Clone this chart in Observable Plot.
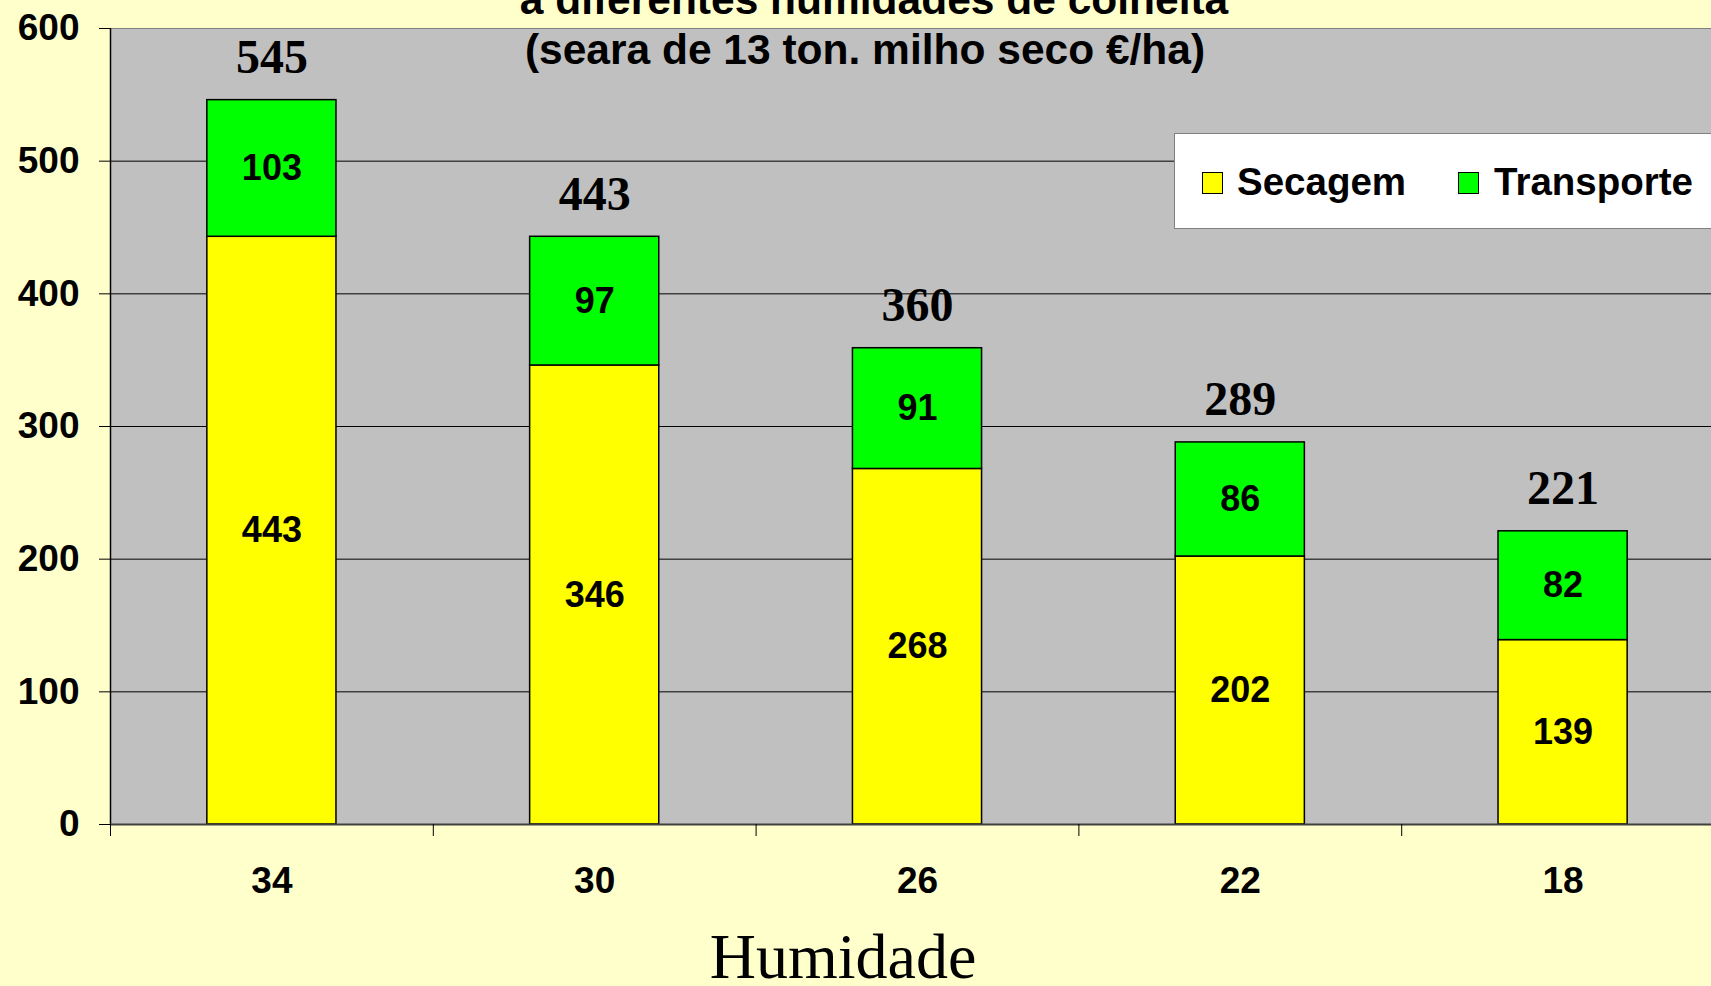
<!DOCTYPE html>
<html>
<head>
<meta charset="utf-8">
<script src="https://cdn.jsdelivr.net/npm/d3@7"></script>
<script src="https://cdn.jsdelivr.net/npm/@observablehq/plot@0.6"></script>
<style>
  html, body { margin: 0; padding: 0; overflow: hidden; background: #FFFFCC; width: 1711px; height: 986px; }
  #wrap { position: relative; width: 1711px; height: 986px; overflow: hidden; }
  #chart { width: 1724px; }
  #chart svg { display: block; max-width: none !important; }
  .title { position: absolute; transform: translateX(-50%); white-space: nowrap;
           font-family: "Liberation Sans", Arial, sans-serif; font-weight: bold; font-size: 42.5px; line-height: 42px; color: #000; }
  #xlabel { position: absolute; transform: translateX(-50%); white-space: nowrap;
            font-family: "Liberation Serif", "Times New Roman", serif; font-size: 64px; line-height: 40px; color: #000; }
  #legend { position: absolute; left: 1174px; top: 133px; width: 600px; height: 96px; box-sizing: border-box;
            background: #fff; border: 1px solid #808080; }
  #legend .sw { position: absolute; width: 21px; height: 22px; box-sizing: border-box; border: 1px solid #000; }
  #legend .lt { position: absolute; font-family: "Liberation Sans", Arial, sans-serif; font-weight: bold;
                font-size: 38.5px; line-height: 38px; white-space: nowrap; color: #000; }
</style>
</head>
<body>
<div id="wrap">
  <div id="chart"></div>
  <div class="title" id="t1" style="left:874px; top:-21px;"></div>
  <div class="title" id="t2" style="left:865px; top:29px;"></div>
  <div id="legend"></div>
  <div id="xlabel" style="left:843px; top:937px;"></div>
</div>
<script>
// ---- Data ----
const titulo1 = "a diferentes humidades de colheita";
const titulo2 = "(seara de 13 ton. milho seco €/ha)";
const eixoX = "Humidade";
const categorias = ["34", "30", "26", "22", "18"];
const series = ["Secagem", "Transporte"];
const cores = ["#FFFF00", "#00FF00"];
const secagem = [443, 346, 268, 202, 139];
const transporte = [103, 97, 91, 86, 82];
const totais = [545, 443, 360, 289, 221];
const ticksY = [0, 100, 200, 300, 400, 500, 600];

// ---- Derived table ----
const linhas = categorias.flatMap((c, i) => [
  {cat: c, i, serie: series[0], y1: 0, y2: secagem[i], valor: secagem[i]},
  {cat: c, i, serie: series[1], y1: secagem[i], y2: secagem[i] + transporte[i], valor: transporte[i]}
]);
const topos = categorias.map((c, i) => ({cat: c, i, topo: secagem[i] + transporte[i], total: totais[i]}));

const sans = "Liberation Sans, Arial, sans-serif";
const serif = "Liberation Serif, Times New Roman, serif";

const chart = Plot.plot({
  width: 1724,
  height: 986,
  marginLeft: 110,
  marginRight: 0,
  marginTop: 28,
  marginBottom: 162,
  style: {background: "transparent", color: "black", fontFamily: sans, maxWidth: "none"},
  x: {domain: [0, categorias.length], axis: null},
  y: {domain: [0, 600], axis: null},
  color: {domain: series, range: cores},
  marks: [
    Plot.frame({fill: "#C0C0C0", stroke: "#808080"}),
    Plot.gridY({ticks: ticksY.slice(1, -1), stroke: "black", strokeOpacity: 1, strokeWidth: 1}),
    Plot.rect(linhas, {
      x1: d => d.i + 0.3, x2: d => d.i + 0.7, y1: "y1", y2: "y2",
      fill: "serie", stroke: "black", strokeWidth: 1.5
    }),
    Plot.text(linhas, {
      x: d => d.i + 0.5, y: d => (d.y1 + d.y2) / 2, text: d => String(d.valor),
      fontSize: 36, fontWeight: "bold", fontFamily: sans, fill: "black", lineAnchor: "middle"
    }),
    Plot.text(topos, {
      x: d => d.i + 0.5, y: "topo", text: d => String(d.total),
      dy: -27, lineAnchor: "bottom",
      fontSize: 48, fontWeight: "bold", fontFamily: serif, fill: "black"
    }),
    Plot.ruleX([0], {stroke: "black", strokeWidth: 1.5}),
    Plot.ruleY([0], {stroke: "#404040", strokeWidth: 2}),
    Plot.axisY({
      ticks: ticksY, tickSize: 11, tickPadding: 20, stroke: "black",
      fontSize: 37, fontWeight: "bold", fontFamily: sans, tickFormat: d => String(d)
    }),
    Plot.axisX({
      ticks: d3.range(0, categorias.length + 1), tickSize: 12, stroke: "black", tickFormat: () => ""
    }),
    Plot.axisX({
      ticks: categorias.map((c, i) => i + 0.5), tickSize: 0, tickPadding: 42,
      tickFormat: v => categorias[Math.floor(v)],
      fontSize: 37, fontWeight: "bold", fontFamily: sans
    })
  ]
});
document.getElementById("chart").appendChild(chart);

document.getElementById("t1").textContent = titulo1;
document.getElementById("t2").textContent = titulo2;
document.getElementById("xlabel").textContent = eixoX;

// Legend
const legend = document.getElementById("legend");
const swX = [27, 283];
const txX = [62, 319];
series.forEach((s, k) => {
  const sw = document.createElement("div");
  sw.className = "sw";
  sw.style.left = swX[k] + "px";
  sw.style.top = "38px";
  sw.style.background = cores[k];
  legend.appendChild(sw);
  const t = document.createElement("div");
  t.className = "lt";
  t.style.left = txX[k] + "px";
  t.style.top = "29px";
  t.textContent = s;
  legend.appendChild(t);
});
</script>
</body>
</html>
